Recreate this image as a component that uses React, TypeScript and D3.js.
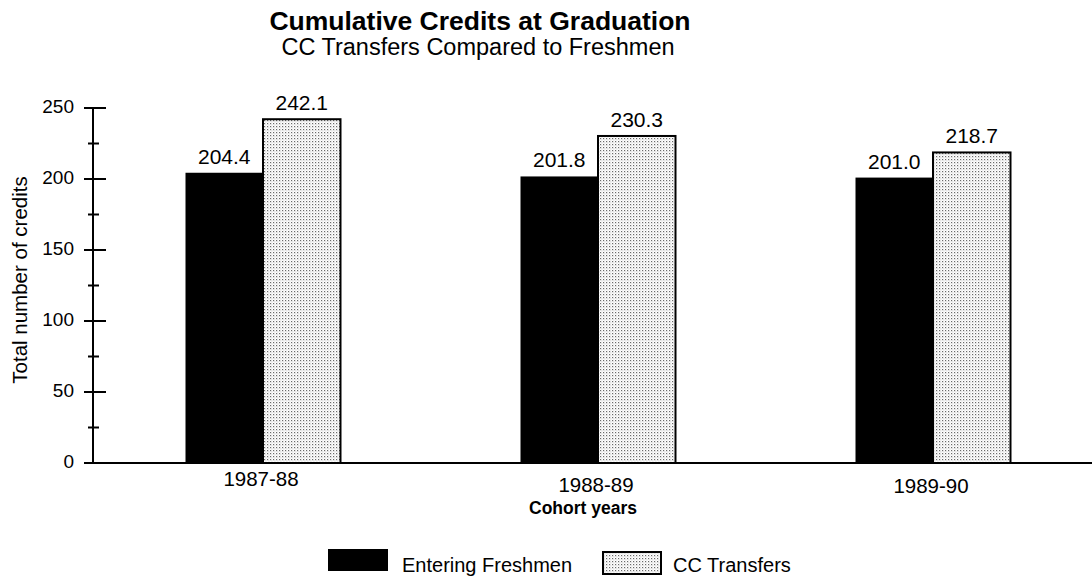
import React from "react";
import * as d3 from "d3";

const categories = ["1987-88", "1988-89", "1989-90"];
const seriesNames = ["Entering Freshmen", "CC Transfers"];
const freshmen = [204.4, 201.8, 201.0];
const transfers = [242.1, 230.3, 218.7];
const yTicks = [0, 50, 100, 150, 200, 250];
const yMinorTicks = [25, 75, 125, 175, 225];
const labelBaselines = [486, 492, 493];

const W = 1092;
const H = 582;
const FONT = "'Liberation Sans', Arial, Helvetica, sans-serif";

export default function App() {
  const y = d3.scaleLinear().domain([0, 250]).range([463, 108]);
  const x = d3.scaleBand().domain(categories).range([95.5, 1100.5]).paddingInner(0).paddingOuter(0);
  const inner = d3.scaleBand().domain(seriesNames).range([-77.5, 77.5]);
  const series = [freshmen, transfers];
  const axisX = 93;

  return (
    <svg width={W} height={H} style={{ position: "absolute", left: 0, top: 0, background: "#fff" }} fontFamily={FONT}>
      <defs>
        <pattern id="dots" width="3" height="3" patternUnits="userSpaceOnUse">
          <rect width="3" height="3" fill="#ffffff" />
          <rect x="0" y="0" width="1.2" height="1.2" fill="#6a6a6a" />
          <rect x="1.5" y="1.5" width="0.9" height="0.9" fill="#b0b0b0" />
        </pattern>
      </defs>
      <rect width={W} height={H} fill="#fff" />

      <text x={480} y={30} textAnchor="middle" fontSize={26.5} fontWeight="bold">Cumulative Credits at Graduation</text>
      <text x={478} y={55} textAnchor="middle" fontSize={23.5}>CC Transfers Compared to Freshmen</text>

      {categories.map((c, i) => {
        const cx = (x(c) as number) + x.bandwidth() / 2;
        return (
          <g key={c}>
            {series.map((vals, s) => {
              const bx = cx + (inner(seriesNames[s]) as number);
              const bw = inner.bandwidth();
              const top = y(vals[i]);
              return (
                <g key={s}>
                  {s === 0 ? (
                    <rect x={bx} y={top} width={bw} height={y(0) - top} fill="#000" />
                  ) : (
                    <rect x={bx} y={top} width={bw} height={y(0) - top} fill="url(#dots)" stroke="#000" strokeWidth={2} />
                  )}
                  <text x={bx + bw / 2} y={top - 9} textAnchor="middle" fontSize={21}>{vals[i].toFixed(1)}</text>
                </g>
              );
            })}
            <text x={cx - 2} y={labelBaselines[i]} textAnchor="middle" fontSize={20.5}>{c}</text>
          </g>
        );
      })}

      {/* y axis */}
      <line x1={axisX} x2={axisX} y1={y(250)} y2={y(0)} stroke="#000" strokeWidth={2} />
      {yTicks.map((t) => (
        <g key={t}>
          <line x1={84} x2={106} y1={y(t)} y2={y(t)} stroke="#000" strokeWidth={2} />
          <text x={74} y={y(t) + 5} textAnchor="end" fontSize={19}>{t}</text>
        </g>
      ))}
      {yMinorTicks.map((t) => (
        <line key={t} x1={88} x2={99} y1={y(t)} y2={y(t)} stroke="#000" strokeWidth={2} />
      ))}
      {/* baseline */}
      <line x1={84} x2={W} y1={y(0)} y2={y(0)} stroke="#000" strokeWidth={2} />

      <text x={583} y={514} textAnchor="middle" fontSize={17.5} fontWeight="bold">Cohort years</text>
      <text transform={`translate(27,280) rotate(-90)`} textAnchor="middle" fontSize={20.5}>Total number of credits</text>

      {/* legend */}
      <rect x={328} y={549} width={60} height={22} fill="#000" />
      <text x={402} y={572} fontSize={20}>Entering Freshmen</text>
      <rect x={603} y={552} width={58} height={22} fill="url(#dots)" stroke="#000" strokeWidth={2} />
      <text x={673} y={572} fontSize={20}>CC Transfers</text>
    </svg>
  );
}
